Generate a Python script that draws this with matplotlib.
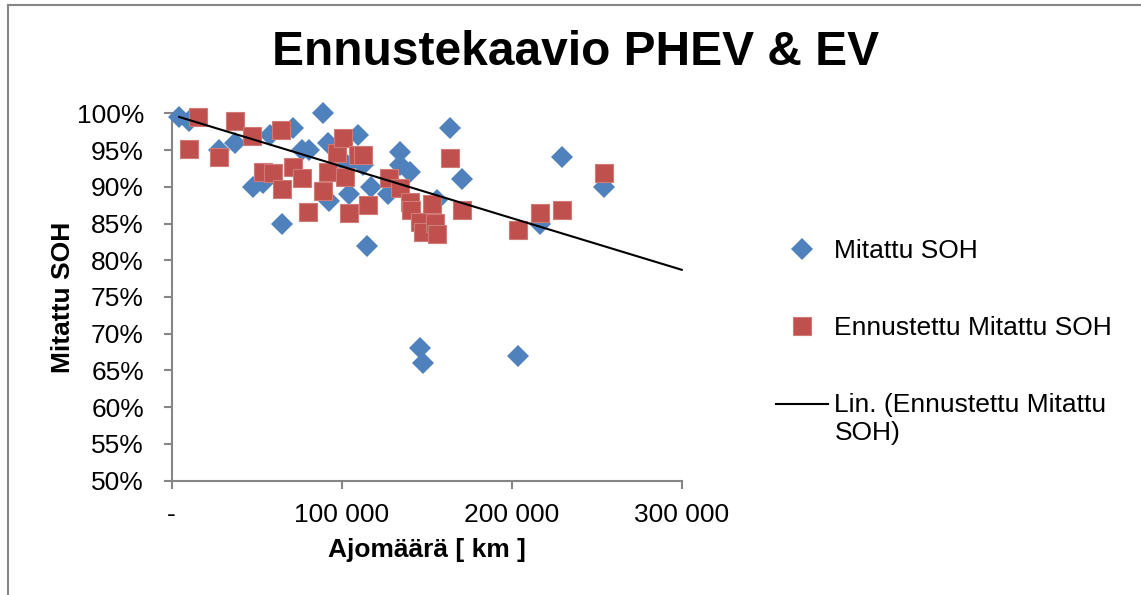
import numpy as np
import matplotlib
matplotlib.use("Agg")
import matplotlib.pyplot as plt
from matplotlib.lines import Line2D
from matplotlib.ticker import FuncFormatter

plt.rcParams['font.family'] = ['Liberation Sans', 'DejaVu Sans']

# Mitattu SOH (measured)
km_measured = [4300, 10200, 27800, 37200, 47800, 53700, 57800, 71400, 64900, 76600,
               80800, 89000, 91900, 92500, 104300, 109600, 112500, 117200, 114900, 127200,
               134300, 134300, 140200, 163700, 170800, 156100, 146100, 147800, 203700, 216600,
               229600, 254300, 103200]
soh_measured = [0.995, 0.99, 0.95, 0.96, 0.90, 0.905, 0.97, 0.98, 0.85, 0.95,
                0.95, 1.00, 0.96, 0.88, 0.89, 0.97, 0.93, 0.90, 0.82, 0.89,
                0.947, 0.93, 0.92, 0.98, 0.91, 0.882, 0.68, 0.66, 0.67, 0.85,
                0.94, 0.90, 0.93]

# Ennustettu Mitattu SOH (predicted)
km_pred = [15500, 10200, 27800, 37200, 47200, 53700, 59600, 64300, 64900, 71400,
           76600, 80200, 89000, 91900, 97200, 100800, 101900, 104300, 109600, 112500,
           115500, 127800, 134300, 140200, 140800, 153100, 146100, 147800, 154900, 156100,
           163700, 170800, 203700, 216600, 229600, 254300]
soh_pred = [0.995, 0.951, 0.941, 0.989, 0.969, 0.920, 0.919, 0.977, 0.897, 0.927,
            0.912, 0.866, 0.894, 0.920, 0.946, 0.966, 0.913, 0.864, 0.943, 0.943,
            0.875, 0.912, 0.898, 0.879, 0.868, 0.877, 0.852, 0.838, 0.851, 0.836,
            0.939, 0.869, 0.841, 0.864, 0.869, 0.919]

# linear trendline (Lin.) as shown in the chart: start and end values
trend_km = [4400, 300000]
trend_soh = [0.995, 0.787]

x_ticks = [0, 100000, 200000, 300000]
y_ticks = [0.50, 0.55, 0.60, 0.65, 0.70, 0.75, 0.80, 0.85, 0.90, 0.95, 1.00]

blue = '#4F81BD'
red = '#C0504D'
grey = '#868686'

fig = plt.figure(figsize=(11.41, 5.95), dpi=100)
ax = fig.add_axes([0.1505, 0.1921, 0.447, 0.6175])

ax.plot(km_measured, soh_measured, 'D', color=blue, markersize=11.5, markeredgewidth=0,
        label='Mitattu SOH', zorder=3, clip_on=False)
ax.plot(km_pred, soh_pred, 's', color=red, markersize=13, markeredgewidth=0.8,
        markeredgecolor='#D07A78', label='Ennustettu Mitattu SOH', zorder=4, clip_on=False)
ax.plot(trend_km, trend_soh, color='black', linewidth=1.5,
        label='Lin. (Ennustettu Mitattu\nSOH)', zorder=5, clip_on=False)

ax.set_xlim(0, 300000)
ax.set_ylim(0.5, 1.0)
ax.set_xticks(x_ticks)
ax.set_yticks(y_ticks)
ax.xaxis.set_major_formatter(FuncFormatter(lambda v, p: '-' if v == 0 else f'{int(v):,}'.replace(',', ' ')))
ax.yaxis.set_major_formatter(FuncFormatter(lambda v, p: f'{v * 100:.0f}%'))

for side in ['top', 'right']:
    ax.spines[side].set_visible(False)
for side in ['left', 'bottom']:
    ax.spines[side].set_color(grey)
    ax.spines[side].set_linewidth(1.5)
ax.tick_params(axis='both', direction='out', length=6, width=1.5, color=grey,
               labelsize=19, labelcolor='black')
ax.tick_params(axis='y', pad=14)
ax.tick_params(axis='x', pad=10)

ax.set_xlabel('Ajomäärä [ km ]', fontsize=19, fontweight='bold', labelpad=8)
ax.set_ylabel('Mitattu SOH', fontsize=19, fontweight='bold', labelpad=1)
fig.text(0.504, 0.912, 'Ennustekaavio PHEV & EV', fontsize=34.5, fontweight='bold',
         ha='center', va='center')

leg = ax.legend(loc='upper left', bbox_to_anchor=(0.680, 0.598), bbox_transform=fig.transFigure,
                frameon=False, fontsize=19, handlelength=1.97, handletextpad=0.25,
                labelspacing=2.0, borderpad=0, borderaxespad=0)
# put the trendline handle level with the first line of its two-line label
h = leg.legend_handles[2]
h.set_ydata(np.asarray(h.get_ydata()) + 10.5)

# chart frame (cropped at right and bottom)
fig.add_artist(Line2D([8 / 1141, 1.01], [1 - 5 / 595, 1 - 5 / 595], color=grey,
                      linewidth=1.5, transform=fig.transFigure))
fig.add_artist(Line2D([8 / 1141, 8 / 1141], [-0.01, 1 - 5 / 595], color=grey,
                      linewidth=1.5, transform=fig.transFigure))

fig.savefig('out.png', dpi=100)
